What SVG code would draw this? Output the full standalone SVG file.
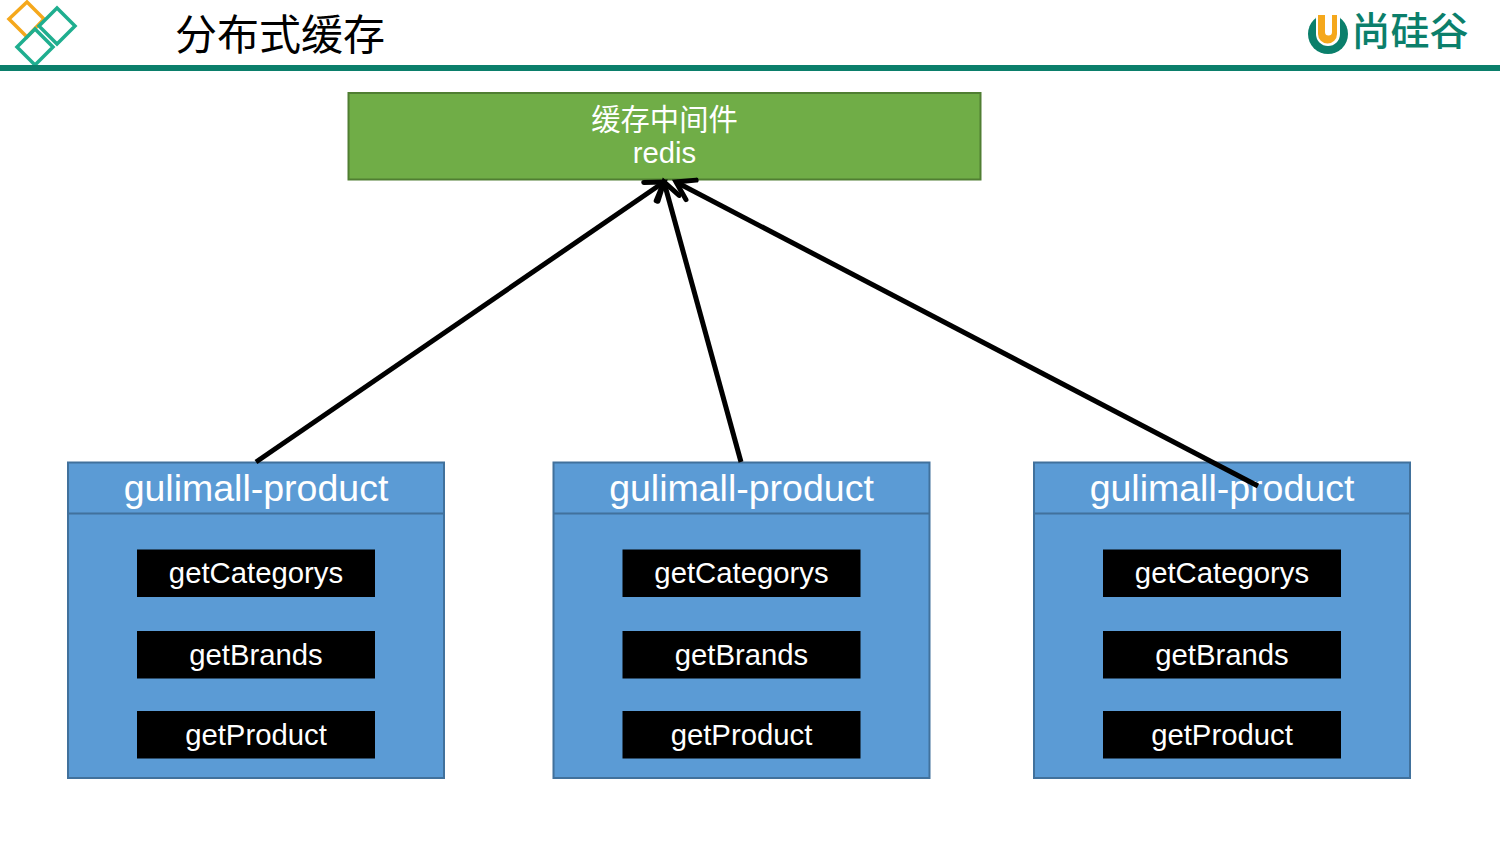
<svg xmlns="http://www.w3.org/2000/svg" width="1500" height="844" viewBox="0 0 1500 844">
<style>
text{font-family:"Liberation Sans","Noto Sans CJK SC",sans-serif;text-anchor:middle;fill:#fff}
.box{fill:#5b9bd5;stroke:#41719c;stroke-width:2}
.div{stroke:#41719c;stroke-width:2}
.m{fill:#000}
.h{font-size:37.5px}
.t{font-size:29.300px}
.c{fill:none;stroke:#000;stroke-width:5}
.d{fill:none;stroke-width:3.5}
</style>
<defs>
<marker id="arr" markerUnits="userSpaceOnUse" markerWidth="40" markerHeight="40" refX="22" refY="15" orient="auto" overflow="visible">
<path d="M5 4 L22 15 L5 26" fill="none" stroke="#000" stroke-width="5" stroke-linecap="round" stroke-linejoin="miter"/>
</marker>
<g id="svc">
<rect class="box" x="0" y="0" width="376" height="315.500"/>
<line class="div" x1="0" y1="51" x2="376" y2="51"/>
<text class="h" x="188" y="38">gulimall-product</text>
<rect class="m" x="69" y="87" width="238" height="47.500"/>
<text class="t" x="188" y="120">getCategorys</text>
<rect class="m" x="69" y="168.500" width="238" height="47.500"/>
<text class="t" x="188" y="202">getBrands</text>
<rect class="m" x="69" y="248.500" width="238" height="47.500"/>
<text class="t" x="188" y="282">getProduct</text>
</g>
</defs>
<rect width="1500" height="844" fill="#fff"/>
<g id="header">
<path class="d" stroke="#f5a81c" d="M27 2 L44 19 L27 37 L9 19 Z"/>
<path class="d" stroke="#1fae8f" d="M57 8 L75 26 L57 44 L39 26 Z"/>
<path class="d" stroke="#1fae8f" d="M35 29 L53 47 L35 65 L17 47 Z"/>
<rect x="0" y="65" width="1500" height="6" fill="#0b7f6b"/>
<text x="280" y="50" style="font-size:42px;fill:#000;font-family:'Noto Sans CJK SC',sans-serif">分布式缓存</text>
</g>
<g id="logo">
<circle cx="1328" cy="34" r="20" fill="#0b7f6b"/>
<path d="M1316 10 H1340 V34 a12 12 0 0 1 -24 0 Z" fill="#fff"/>
<path d="M1318 15 H1337 V34 a9.500 9.500 0 0 1 -19 0 Z" fill="#f5a81c"/>
<path d="M1325 15 h7 v17 a3.500 3.500 0 0 1 -7 0 Z" fill="#fff"/>
<text x="1410" y="45" style="font-size:39px;font-weight:500;fill:#0b7f6b;font-family:'Noto Sans CJK SC',sans-serif">尚硅谷</text>
</g>
<g id="redis">
<rect x="348.500" y="93" width="632" height="86.500" fill="#70ad47" stroke="#507e32" stroke-width="2"/>
<text x="664.500" y="130" style="font-size:29.300px">缓存中间件</text>
<text x="664.500" y="163" style="font-size:29.300px">redis</text>
</g>
<g id="service1"><use href="#svc" x="68" y="462.500"/></g>
<g id="service2"><use href="#svc" x="553.500" y="462.500"/></g>
<g id="service3"><use href="#svc" x="1034" y="462.500"/></g>
<g id="connectors">
<line class="c" x1="256" y1="462" x2="664" y2="182" marker-end="url(#arr)"/>
<line class="c" x1="741" y1="462" x2="664" y2="182" marker-end="url(#arr)"/>
<line class="c" x1="1258" y1="486" x2="676" y2="182" marker-end="url(#arr)"/>
</g>
</svg>
